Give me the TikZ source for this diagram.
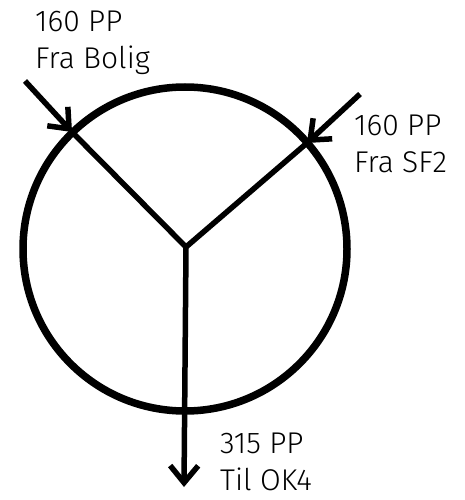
\documentclass[tikz,border=0pt]{standalone}
\usepackage{fontspec}
\setmainfont{Fira Sans Light}
\usepackage{tikz}
\usetikzlibrary{arrows.meta}
\usetikzlibrary{positioning}
\tikzstyle{ring}=[circle,draw,line width=7.5pt,minimum size=324pt,inner sep=0pt]
\tikzstyle{pipe}=[draw,line width=5.5pt]
\tikzstyle{flow}=[pipe,-{Straight Barb[length=17pt,width=28pt]}]
\tikzstyle{tag}=[font=\fontsize{30}{37}\selectfont,align=left,anchor=north west,inner sep=0pt]

\begin{document}
\begin{tikzpicture}[x=1pt,y=-1pt]
    \useasboundingbox (0,0) rectangle (465,500);
    % the mixing point
    \node[ring] (mix) at (185,249) {};
    \node[coordinate] (junction) at (186,247) {};

    % where the pipes meet the ring, and their free ends
    \foreach \pos/\name in {{(72,132)/hitBolig}, {(307,143)/hitSF}, {(25,81)/fromBolig}, {(360,94)/fromSF}, {(184,487)/toOK}}
        \node[coordinate] (\name) at \pos {};

    % flows in
    \foreach \source/\dest in {fromBolig/hitBolig, fromSF/hitSF}
        \path[flow] (\source) -- (\dest);
    \foreach \source in {hitBolig, hitSF}
        \path[pipe] (\source) -- (junction);
    % flow out
    \path[flow] (junction) -- (toOK);

    % labels
    \foreach \pos/\name/\label in {{(35,11)/tagBolig/160 PP\\Fra Bolig}, {(354,115)/tagSF/160 PP\\Fra SF2}, {(220,433)/tagOK/315 PP\\Til OK4}}
        \node[tag] (\name) at \pos {\label};
\end{tikzpicture}
\end{document}
